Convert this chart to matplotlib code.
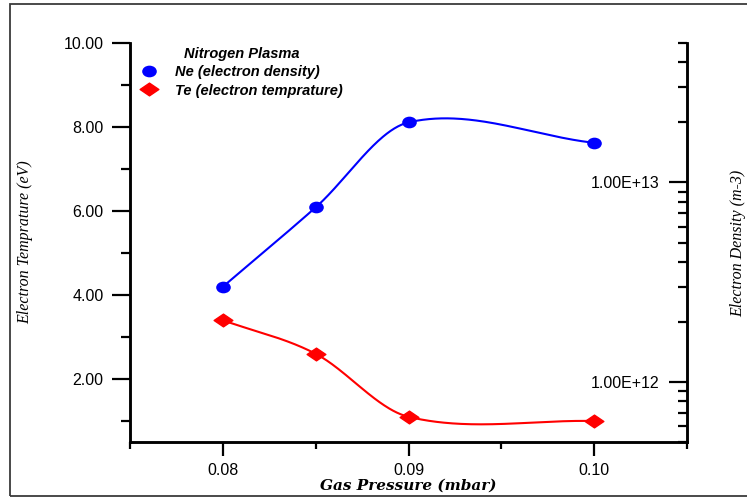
import numpy as np
import matplotlib
matplotlib.use("Agg")
import matplotlib.pyplot as plt
from matplotlib.lines import Line2D
from matplotlib.patches import Rectangle
from matplotlib.path import Path
from matplotlib.ticker import FixedLocator, FuncFormatter, NullFormatter, LogLocator

# data
pressure = [0.080, 0.085, 0.090, 0.100]          # mbar
te_vals = [3.40, 2.60, 1.10, 1.00]                # eV
ne_vals = [3.0e12, 7.5e12, 2.0e13, 1.58e13]       # m-3
x_major = [0.08, 0.09, 0.10]
x_minor = [0.075, 0.085, 0.095, 0.105]


def smooth_line(x, y, xs):
    # cubic hermite with finite-difference slopes, only for the connecting line
    x = np.asarray(x, float)
    y = np.asarray(y, float)
    n = len(x)
    m = np.zeros(n)
    m[0] = (y[1] - y[0]) / (x[1] - x[0])
    m[-1] = (y[-1] - y[-2]) / (x[-1] - x[-2])
    for i in range(1, n - 1):
        m[i] = (y[i + 1] - y[i - 1]) / (x[i + 1] - x[i - 1])
    k = np.clip(np.searchsorted(x, xs) - 1, 0, n - 2)
    h = x[k + 1] - x[k]
    t = (xs - x[k]) / h
    h00 = 2 * t ** 3 - 3 * t ** 2 + 1
    h10 = t ** 3 - 2 * t ** 2 + t
    h01 = -2 * t ** 3 + 3 * t ** 2
    h11 = t ** 3 - t ** 2
    return h00 * y[k] + h10 * h * m[k] + h01 * y[k + 1] + h11 * h * m[k + 1]


W, H = 747, 497
fig = plt.figure(figsize=(W / 100, H / 100), dpi=100)
ax = fig.add_axes([130 / W, 1 - 442 / H, (687 - 130) / W, (442 - 43) / H])
ax2 = ax.twinx()

# outer frame around the whole picture
fig.patches.append(Rectangle((10 / W, 1.5 / H), 1.2, 1 - 5.5 / H, transform=fig.transFigure,
                             fill=False, ec="#3a3a3a", lw=1.3, clip_on=False))

ellipse = Path(Path.unit_circle().vertices * [1.0, 0.78], Path.unit_circle().codes)
diamond = Path([(-1, 0), (0, 0.68), (1, 0), (0, -0.68), (-1, 0)],
               [Path.MOVETO, Path.LINETO, Path.LINETO, Path.LINETO, Path.CLOSEPOLY])

xs = np.linspace(pressure[0], pressure[-1], 300)

# Te on the left axis
ax.plot(xs, smooth_line(pressure, te_vals, xs), color="#ff0000", lw=1.5, zorder=2)
ax.plot(pressure, te_vals, ls="none", marker=diamond, ms=13.5, color="#ff0000", mec="#ff0000", zorder=3)

# Ne on the right (log) axis, smoothed in log space
ne_log = np.log10(ne_vals)
ax2.plot(xs, 10 ** smooth_line(pressure, ne_log, xs), color="#0000ff", lw=1.5, zorder=2)
ax2.plot(pressure, ne_vals, ls="none", marker=ellipse, ms=9.5, color="#0000ff", mec="#0000ff", zorder=3)

ax.set_xlim(0.075, 0.105)
ax.set_ylim(0.5, 10)
ax2.set_yscale("log")
ax2.set_ylim(5e11, 5e13)

ax.xaxis.set_major_locator(FixedLocator(x_major))
ax.xaxis.set_minor_locator(FixedLocator(x_minor))
ax.xaxis.set_major_formatter(FuncFormatter(lambda v, p: "%.2f" % v))
ax.yaxis.set_major_locator(FixedLocator([2, 4, 6, 8, 10]))
ax.yaxis.set_minor_locator(FixedLocator([1, 3, 5, 7, 9]))
ax.yaxis.set_major_formatter(FuncFormatter(lambda v, p: "%.2f" % v))

ax2.yaxis.set_major_locator(LogLocator(base=10, numticks=10))
ax2.yaxis.set_minor_locator(LogLocator(base=10, subs=np.arange(2, 10), numticks=20))
ax2.yaxis.set_major_formatter(FuncFormatter(lambda v, p: "%.2E" % v))
ax2.yaxis.set_minor_formatter(NullFormatter())

for a in (ax, ax2):
    for s in a.spines.values():
        s.set_linewidth(1.8)
    a.spines["top"].set_visible(False)

ax.tick_params(axis="x", which="major", direction="out", length=10, width=1.6, pad=5)
ax.tick_params(axis="x", which="minor", direction="out", length=5, width=1.6)
ax.tick_params(axis="y", which="major", direction="out", length=13, width=1.6, pad=6)
ax.tick_params(axis="y", which="minor", direction="out", length=6.5, width=1.6)
ax2.tick_params(axis="y", which="major", direction="in", length=13, width=1.6, pad=-20)
ax2.tick_params(axis="y", which="minor", direction="in", length=6.5, width=1.6)

for lbl in ax.get_xticklabels() + ax.get_yticklabels() + ax2.get_yticklabels():
    lbl.set_fontfamily("Liberation Sans")
    lbl.set_fontsize(11.5)
plt.setp(ax2.get_yticklabels(), ha="right")

fig.text(25 / W, 1 - 242 / H, "Electron Temprature (eV)", rotation=90, ha="center", va="center",
         family="Liberation Serif", style="italic", size=11.5)
fig.text(738 / W, 1 - 243 / H, "Electron Density (m-3)", rotation=90, ha="center", va="center",
         family="Liberation Serif", style="italic", size=11.5)
fig.text(408 / W, 1 - 486 / H, "Gas Pressure (mbar)", ha="center", va="center",
         family="DejaVu Serif", style="italic", weight="bold", size=11)

leg_font = dict(family="Liberation Sans", style="italic", weight="bold", size=10.5)
handles = [Line2D([], [], ls="none", marker=ellipse, ms=9.5, color="#0000ff"),
           Line2D([], [], ls="none", marker=diamond, ms=13.5, color="#ff0000")]
leg = ax2.legend(handles, ["Ne (electron density)", "Te (electron temprature)"],
                 title="Nitrogen Plasma", loc="upper left",
                 bbox_to_anchor=(133 / W, 1 - 40 / H), bbox_transform=fig.transFigure,
                 frameon=False, borderpad=0, handlelength=1.2, handletextpad=1.2,
                 labelspacing=0.28, prop=leg_font, title_fontproperties=leg_font)
leg._legend_box.sep = 3

fig.savefig("out.png", dpi=100)
